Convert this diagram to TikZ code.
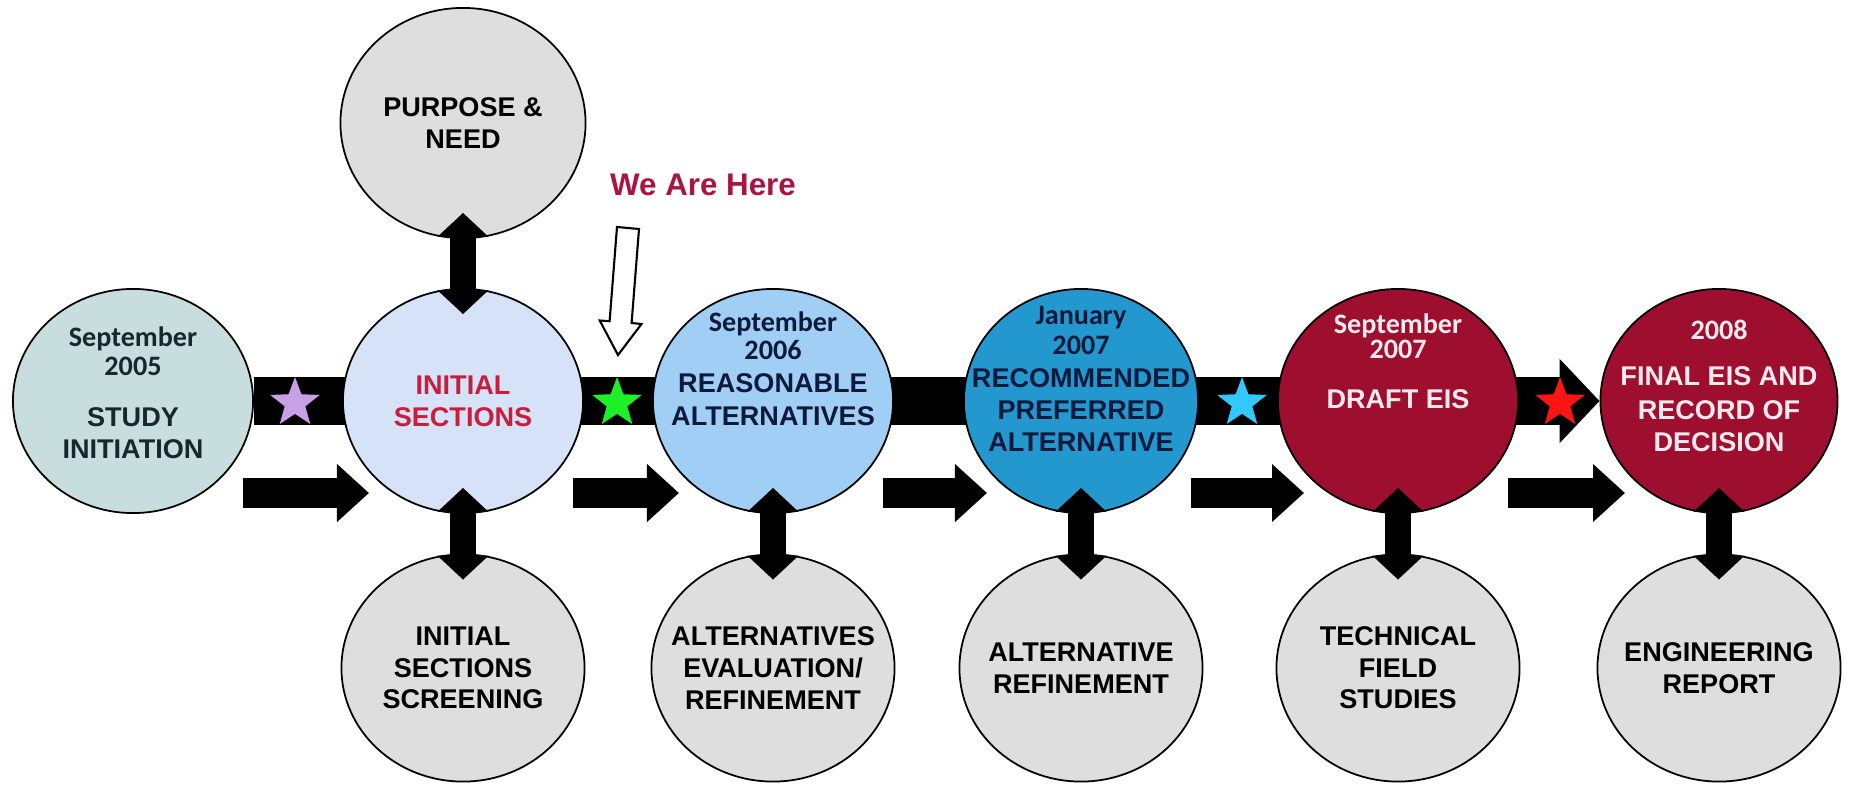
\documentclass[tikz,border=0pt]{standalone}
\usepackage{fontspec}
\setsansfont{Liberation Sans}
\newfontfamily\calibfont{Carlito}
\usetikzlibrary{shapes.geometric,arrows.meta,calc,backgrounds}

\definecolor{studyfill}{RGB}{200,222,222}
\definecolor{initfill}{RGB}{214,226,247}
\definecolor{reasfill}{RGB}{160,206,244}
\definecolor{recfill}{RGB}{34,152,206}
\definecolor{eisfill}{RGB}{158,14,46}
\definecolor{sidegray}{RGB}{222,222,222}
\definecolor{studytext}{RGB}{22,40,44}
\definecolor{inittext}{RGB}{200,30,60}
\definecolor{navytext}{RGB}{14,26,60}
\definecolor{eistext}{RGB}{250,234,238}
\definecolor{heretext}{RGB}{170,20,64}
\definecolor{starpurple}{RGB}{200,160,232}
\definecolor{stargreen}{RGB}{30,240,40}
\definecolor{starcyan}{RGB}{50,200,250}
\definecolor{starred}{RGB}{255,20,20}

\newcommand{\phasefont}{\sffamily\bfseries\fontsize{7.7}{9}\selectfont}
\newcommand{\monthfont}{\calibfont\bfseries\fontsize{8}{9}\selectfont}

\begin{document}
\begin{tikzpicture}[x=0.01cm, y=-0.01cm,
  phase/.style={ellipse, draw, line width=0.5pt, minimum width=2.4cm, minimum height=2.24cm, inner sep=0pt},
  side/.style={phase, fill=sidegray, minimum width=2.43cm, minimum height=2.27cm},
  phasetext/.style={align=center, font=\phasefont, inner sep=0pt},
  timeline/.style={line width=0.47cm, -{Triangle[length=0.4cm, width=0.82cm]}},
  flow/.style={line width=0.3cm, -{Triangle[length=0.32cm, width=0.56cm]}},
  tielink/.style={line width=0.26cm, {Triangle[length=0.24cm, width=0.5cm]}-{Triangle[length=0.24cm, width=0.5cm]}, shorten <=-0.26cm, shorten >=-0.26cm},
  stardot/.style={star, star points=5, star point ratio=2.4, minimum size=0.52cm, inner sep=0pt}
]
  \useasboundingbox (0,0) rectangle (1849,785);

  \node[phase, fill=studyfill] (study) at (133,401) {};
  \node[phase, fill=initfill] (init) at (463,401) {};
  \node[phase, fill=reasfill] (reas) at (773,401) {};
  \node[phase, fill=recfill, minimum width=2.34cm] (rec) at (1081,401) {};
  \node[phase, fill=eisfill] (draft) at (1398,401) {};
  \node[phase, fill=eisfill, minimum width=2.37cm] (final) at (1719,401) {};

  \node[side, minimum width=2.45cm, minimum height=2.3cm] (purpose) at (463,123) {};
  \node[side] (screen) at (463,668) {};
  \node[side] (altev) at (773,668) {};
  \node[side] (altref) at (1081,668) {};
  \node[side] (field) at (1398,668) {};
  \node[side] (eng) at (1719,668) {};

  \begin{scope}[on background layer]
    \draw[timeline] (study) -- (final);
  \end{scope}

  \node[stardot, fill=starpurple] (star1) at (295,403) {};
  \node[stardot, fill=stargreen] (star2) at (617,403) {};
  \node[stardot, fill=starcyan] (star3) at (1242,403) {};
  \node[stardot, fill=starred] (star4) at (1560,403) {};

  \foreach \a/\b in {study/init, init/reas, reas/rec, rec/draft, draft/final}
    \draw[flow] ($(\a)+(110,92)$) -- ($(\b)+(-94,92)$);

  \path[tielink]
    (purpose) edge (init)
    (init) edge (screen)
    (reas) edge (altev)
    (rec) edge (altref)
    (draft) edge (field)
    (final) edge (eng);

  \node[phasetext, text=studytext] (studytxt) at ([yshift=0.08cm]study)
    {{\monthfont September}\\[-0.75pt]{\monthfont 2005}\\[5.5pt]STUDY\\INITIATION};
  \node[phasetext, text=inittext] (inittxt) at (init) {INITIAL\\SECTIONS};
  \node[phasetext, text=navytext] (reastxt) at ([yshift=0.32cm]reas)
    {{\monthfont September}\\[-1.2pt]{\monthfont 2006}\\[0.4pt]REASONABLE\\[0.6pt]ALTERNATIVES};
  \node[phasetext, text=navytext] (rectxt) at ([yshift=0.22cm]rec)
    {{\monthfont January}\\[-0.5pt]{\monthfont 2007}\\[0.4pt]RECOMMENDED\\PREFERRED\\ALTERNATIVE};
  \node[phasetext, text=eistext] (drafttxt) at ([yshift=0.4cm]draft)
    {{\monthfont September}\\[-1.9pt]{\monthfont 2007}\\[5.2pt]DRAFT EIS};
  \node[phasetext, text=eistext] (finaltxt) at ([yshift=0.15cm]final)
    {{\monthfont 2008}\\[4.1pt]FINAL EIS AND\\[0.7pt]RECORD OF\\DECISION};

  \node[phasetext] (purposetxt) at (purpose) {PURPOSE \&\\NEED};
  \node[phasetext] (screentxt) at (screen) {INITIAL\\SECTIONS\\SCREENING};
  \node[phasetext] (altevtxt) at (altev) {ALTERNATIVES\\EVALUATION/\\REFINEMENT};
  \node[phasetext] (altreftxt) at (altref) {ALTERNATIVE\\REFINEMENT};
  \node[phasetext] (fieldtxt) at (field) {TECHNICAL\\FIELD\\STUDIES};
  \node[phasetext] (engtxt) at (eng) {ENGINEERING\\REPORT};

  \node[font=\sffamily\bfseries\fontsize{8.9}{10}\selectfont, text=heretext] (here) at (703,185) {We Are Here};
  \draw[line width=0.6pt, fill=white] (617,227) -- (639,229) -- (631.6,323) -- (641.5,324)
    -- (618,355) -- (599.7,320.5) -- (609.6,321.2) -- cycle;
\end{tikzpicture}
\end{document}
